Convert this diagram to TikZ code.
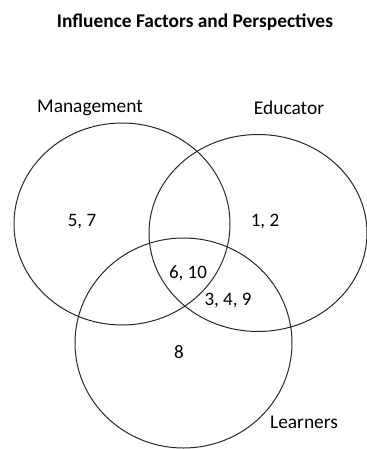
\documentclass[tikz,border=0pt]{standalone}
\usepackage{fontspec}
\setmainfont{Carlito}
\usepackage{tikz}
\definecolor{vennline}{RGB}{40, 40, 40}

\begin{document}
\begin{tikzpicture}[
    x=0.5pt, y=-0.5pt,
    set/.style={line width=0.5pt, vennline},
    label/.style={font=\fontsize{9.7pt}{11pt}\selectfont, inner sep=0pt},
    region/.style={font=\fontsize{9.5pt}{11pt}\selectfont, inner sep=0pt}
]
    \useasboundingbox (0,0) rectangle (367,449);

    % Title
    \node[font=\fontsize{9.7pt}{11pt}\selectfont\bfseries, inner sep=0pt] (title) at (195,22) {Influence Factors and Perspectives};

    % The three sets
    \draw[set] (122,224) ellipse [x radius=108, y radius=101];
    \draw[set] (258,233) ellipse [x radius=109, y radius=98.5];
    \draw[set] (183.5,343) ellipse [x radius=108.5, y radius=105];

    % Set names
    \node[label] (mgmt) at (90,108) {Management};
    \node[label] (edu) at (289,108) {Educator};
    \node[label] (learn) at (304,422) {Learners};

    % Factors in each region
    \node[region] (r57) at (82,222) {5, 7};
    \node[region] (r12) at (265,222) {1, 2};
    \node[region] (r610) at (188,273) {6, 10};
    \node[region] (r349) at (228,301) {3, 4, 9};
    \node[region] (r8) at (179,352) {8};

\end{tikzpicture}
\end{document}
